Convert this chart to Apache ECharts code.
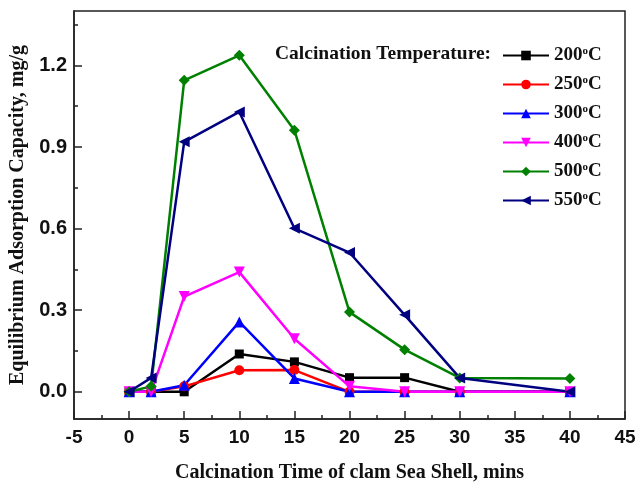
<!DOCTYPE html>
<html>
<head>
<meta charset="utf-8">
<script src="https://cdn.jsdelivr.net/npm/echarts@6/dist/echarts.min.js"></script>
<style>
  html, body { margin: 0; padding: 0; background: #fff; }
  #chart { width: 638px; height: 482px; }
</style>
</head>
<body>
<div id="chart"></div>
<script>
// calcination time, mins
var times = [0, 2, 5, 10, 15, 20, 25, 30, 40];

// adsorption capacity (mg/g) per calcination temperature
var t200 = [0, 0, 0, 0.139, 0.11, 0.052, 0.052, 0, 0];
var t250 = [0, 0, 0.02, 0.079, 0.08, 0, 0, 0, 0];
var t300 = [0, 0, 0.024, 0.257, 0.049, 0, 0, 0, 0];
var t400 = [0, 0, 0.35, 0.44, 0.195, 0.02, 0, 0, 0];
var t500 = [0, 0.02, 1.145, 1.237, 0.962, 0.293, 0.155, 0.051, 0.049];
var t550 = [0, 0.051, 0.919, 1.029, 0.601, 0.512, 0.283, 0.051, 0];

var seriesNames = ['200{sup|o}C', '250{sup|o}C', '300{sup|o}C', '400{sup|o}C', '500{sup|o}C', '550{sup|o}C'];

// y tick values
var yMajor = [0, 0.3, 0.6, 0.9, 1.2];
var yMinor = [0.15, 0.45, 0.75, 1.05, 1.35];

var sansFont = '"Liberation Sans", Arial, sans-serif';
var serifFont = '"Liberation Serif", "Times New Roman", serif';

function pairs(vals) {
    var out = [];
    for (var i = 0; i < times.length; i++) {
        out.push([times[i], vals[i]]);
    }
    return out;
}

function makeSeries(name, vals, color, symbol, rotate, size) {
    return {
        name: name,
        type: 'line',
        data: pairs(vals),
        symbol: symbol,
        symbolSize: size,
        symbolRotate: rotate,
        showAllSymbol: true,
        lineStyle: { color: color, width: 2.5 },
        itemStyle: { color: color },
        emphasis: { disabled: true },
        animation: false
    };
}

var chart = echarts.init(document.getElementById('chart'));

var option = {
    backgroundColor: '#fff',
    animation: false,
    grid: {
        left: 74, top: 11, right: 13, bottom: 63,
        outerBoundsMode: 'none',
        show: true,
        borderColor: '#222',
        borderWidth: 1.5
    },
    graphic: [{
        type: 'text',
        left: 275,
        top: 44,
        style: {
            text: 'Calcination Temperature:',
            font: 'bold 19.5px ' + serifFont,
            fill: '#111'
        }
    }],
    legend: {
        orient: 'vertical',
        left: 497,
        top: 41,
        itemWidth: 46,
        itemHeight: 12,
        itemGap: 10,
        data: seriesNames,
        textStyle: {
            fontFamily: serifFont,
            fontWeight: 'bold',
            fontSize: 19,
            color: '#111',
            rich: {
                sup: {
                    fontFamily: serifFont,
                    fontWeight: 'bold',
                    fontSize: 11,
                    color: '#111',
                    verticalAlign: 'top',
                    lineHeight: 19
                }
            }
        }
    },
    xAxis: {
        type: 'value',
        min: -5,
        max: 45,
        interval: 5,
        name: 'Calcination Time of clam Sea Shell, mins',
        nameLocation: 'middle',
        nameGap: 44,
        nameTextStyle: {
            fontFamily: serifFont, fontWeight: 'bold', fontSize: 20, color: '#111'
        },
        axisLine: { onZero: false, lineStyle: { color: '#222', width: 1.5 } },
        axisTick: { inside: true, length: 8, lineStyle: { color: '#222', width: 1.5 } },
        minorTick: { show: true, splitNumber: 2, length: 4, lineStyle: { color: '#222', width: 1.5 } },
        axisLabel: {
            margin: 9,
            fontFamily: sansFont, fontWeight: 'bold', fontSize: 19, color: '#111'
        },
        splitLine: { show: false }
    },
    yAxis: [{
        type: 'value',
        min: -0.1,
        max: 1.4,
        name: 'Equilibrium Adsorption Capacity, mg/g',
        nameLocation: 'middle',
        nameGap: 44,
        nameTextStyle: {
            fontFamily: serifFont, fontWeight: 'bold', fontSize: 20, color: '#111'
        },
        axisLine: { show: true, onZero: false, lineStyle: { color: '#222', width: 1.5 } },
        axisTick: { show: true, inside: true, length: 8, customValues: yMajor, lineStyle: { color: '#222', width: 1.5 } },
        axisLabel: {
            margin: 7,
            customValues: yMajor,
            formatter: function (v) { return v.toFixed(1); },
            fontFamily: sansFont, fontWeight: 'bold', fontSize: 20, color: '#111'
        },
        splitLine: { show: false }
    }, {
        type: 'value',
        min: -0.1,
        max: 1.4,
        position: 'left',
        axisLine: { show: false, onZero: false },
        axisTick: { show: true, inside: true, length: 4, customValues: yMinor, lineStyle: { color: '#222', width: 1.5 } },
        axisLabel: { show: false },
        splitLine: { show: false }
    }],
    series: [
        makeSeries(seriesNames[0], t200, '#000000', 'rect', 0, 9),
        makeSeries(seriesNames[1], t250, '#ff0000', 'circle', 0, 10),
        makeSeries(seriesNames[2], t300, '#0000ff', 'triangle', 0, 11),
        makeSeries(seriesNames[3], t400, '#ff00ff', 'triangle', 180, 11),
        makeSeries(seriesNames[4], t500, '#008000', 'diamond', 0, 11),
        makeSeries(seriesNames[5], t550, '#000080', 'triangle', 90, 11)
    ]
};

chart.setOption(option);
</script>
</body>
</html>
